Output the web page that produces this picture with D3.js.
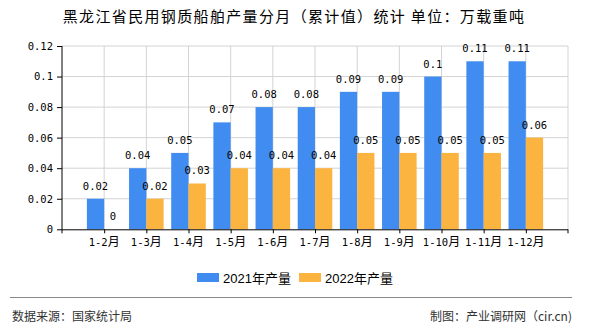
<!DOCTYPE html>
<html><head><meta charset="utf-8">
<script src="https://cdn.jsdelivr.net/npm/d3@7/dist/d3.min.js"></script>
<style>body{margin:0;background:#fff}svg{display:block}</style>
</head><body>
<svg id="c" width="590" height="330"></svg>
<script>
const categories = ["1-2","1-3","1-4","1-5","1-6","1-7","1-8","1-9","1-10","1-11","1-12"];
const series2021 = [0.02,0.04,0.05,0.07,0.08,0.08,0.09,0.09,0.1,0.11,0.11];
const series2022 = [0,0.02,0.03,0.04,0.04,0.04,0.05,0.05,0.05,0.05,0.06];
const seriesNames = ["2021年产量","2022年产量"];
const yTicks = [0,0.02,0.04,0.06,0.08,0.1,0.12];
const colors = ["#418CF0","#FCB441"];

(function(){
const svg = d3.select("#c");
const pL = 62, pR = 568, pT = 46, pB = 229.3;
const step = (pR-pL)/12;
const x = d3.scalePoint().domain(categories).range([pL+step, pR-step]);
const y = d3.scaleLinear().domain([0,0.12]).range([pB, pT]);
const bw = step*0.41;
const mono = "'DejaVu Sans Mono','Liberation Mono',monospace";
const cjk = "'Noto Sans CJK SC','Noto Sans',sans-serif";

svg.append("text").attr("x",294).attr("y",22).attr("text-anchor","middle")
  .attr("font-family",cjk).attr("font-size",15).attr("letter-spacing",1.35).attr("fill","#000")
  .text("黑龙江省民用钢质船舶产量分月（累计值）统计  单位：万载重吨");

const g = svg.append("g");
g.selectAll(".hg").data(yTicks.slice(1)).join("line")
  .attr("x1",pL).attr("x2",pR).attr("y1",d=>y(d)).attr("y2",d=>y(d))
  .attr("stroke","#d3d3d3").attr("stroke-width",1);
g.selectAll(".vg").data(categories).join("line")
  .attr("x1",d=>x(d)).attr("x2",d=>x(d)).attr("y1",pT).attr("y2",pB)
  .attr("stroke","#d3d3d3");
g.append("line").attr("x1",pR).attr("x2",pR).attr("y1",pT).attr("y2",pB).attr("stroke","#d3d3d3");

const data = categories.map((c,i)=>({c, a:series2021[i], b:series2022[i]}));
svg.selectAll(".ba").data(data).join("rect")
  .attr("x",d=>x(d.c)-bw).attr("width",bw).attr("y",d=>y(d.a)).attr("height",d=>pB-y(d.a))
  .attr("fill",colors[0]);
svg.selectAll(".bb").data(data).join("rect")
  .attr("x",d=>x(d.c)).attr("width",bw).attr("y",d=>y(d.b)).attr("height",d=>pB-y(d.b))
  .attr("fill",colors[1]);

const lab = (v,cx)=>svg.append("text").attr("x",cx).attr("y",y(v)-9).attr("text-anchor","middle")
  .attr("font-family",mono).attr("font-size",10.5).attr("fill","#000").text(String(v));
data.forEach(d=>{ lab(d.a, x(d.c)-bw/2); lab(d.b, x(d.c)+bw/2); });

const yAxis = svg.append("g").attr("transform",`translate(${pL},0)`)
  .call(d3.axisLeft(y).tickValues(yTicks).tickSize(5).tickFormat(d=>String(d)));
yAxis.select(".domain").attr("stroke","#000").attr("d",`M0,${pT}V${pB}`);
yAxis.selectAll(".tick line").attr("stroke","#000");
yAxis.selectAll(".tick text").attr("font-family",mono).attr("font-size",10.5).attr("fill","#000").attr("x",-9);

const xAxis = svg.append("g").attr("transform",`translate(0,${pB})`)
  .call(d3.axisBottom(x).tickSize(4).tickSizeOuter(0).tickFormat(""));
xAxis.select(".domain").attr("stroke","#000").attr("d",`M${pL},0.5H${pR}`);
xAxis.selectAll(".tick line").attr("stroke","#000");
[pL,pR].forEach(px=>xAxis.append("line").attr("x1",px).attr("x2",px).attr("y1",0).attr("y2",4).attr("stroke","#000"));
categories.forEach(c=>{
  const t = xAxis.append("text").attr("x",x(c)).attr("y",17).attr("text-anchor","middle").attr("fill","#000");
  t.append("tspan").attr("font-family",mono).attr("font-size",10.5).text(c);
  t.append("tspan").attr("font-family",cjk).attr("font-size",12).text("月");
});

const lg = svg.append("g");
[[197,0],[299,1]].forEach(([lx,i])=>{
  lg.append("rect").attr("x",lx).attr("y",273).attr("width",22).attr("height",9).attr("fill",colors[i]);
  lg.append("text").attr("x",lx+26).attr("y",282.5).attr("font-family","'Liberation Sans','Noto Sans CJK SC',sans-serif")
    .attr("font-size",13).attr("fill","#000").text(seriesNames[i]);
});

svg.append("line").attr("x1",10).attr("x2",572).attr("y1",297.5).attr("y2",297.5).attr("stroke","#888").attr("stroke-width",1);
svg.append("text").attr("x",12).attr("y",321).attr("font-family",cjk).attr("font-size",12).attr("fill","#333")
  .text("数据来源：国家统计局");
svg.append("text").attr("x",572).attr("y",321).attr("text-anchor","end").attr("font-family",cjk).attr("font-size",12).attr("fill","#333")
  .text("制图：产业调研网（cir.cn)");
})();
</script>
</body></html>
